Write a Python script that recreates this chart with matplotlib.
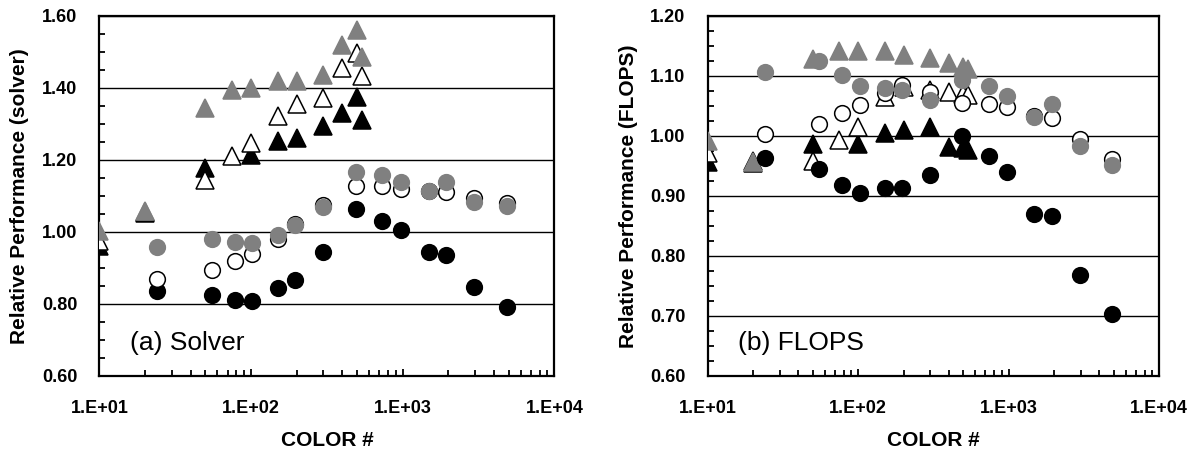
import numpy as np
import matplotlib as mpl
mpl.use('Agg')
import matplotlib.pyplot as plt
from matplotlib.ticker import MultipleLocator, LogLocator, FuncFormatter, NullFormatter

plt.rcParams['font.family'] = ['Liberation Sans', 'DejaVu Sans']

GRAY = '#808080'

# number of colors for each ordering
tri_x = [10, 20, 50, 75, 100, 150, 200, 300, 400, 500, 540]
circ_x = [24, 55, 78, 102, 150, 195, 298, 490, 735, 970, 1480, 1940, 2960, 4870]

# (a) solver time
solver_tri_black = [0.960, 1.052, 1.178, np.nan, 1.215, 1.252, 1.261, 1.293, 1.330, 1.376, 1.312]
solver_tri_white = [0.975, 1.054, 1.143, 1.210, 1.247, 1.323, 1.355, 1.372, 1.455, 1.497, 1.432]
solver_tri_gray = [1.003, 1.058, 1.344, 1.393, 1.400, 1.418, 1.418, 1.437, 1.520, 1.561, 1.487]
solver_circ_black = [0.835, 0.825, 0.811, 0.809, 0.843, 0.866, 0.943, 1.063, 1.030, 1.004, 0.943, 0.935, 0.848, 0.792]
solver_circ_white = [0.869, 0.894, 0.919, 0.938, 0.981, 1.023, 1.074, 1.127, 1.127, 1.118, 1.113, 1.110, 1.095, 1.081]
solver_circ_gray = [0.959, 0.981, 0.972, 0.968, 0.991, 1.019, 1.069, 1.167, 1.158, 1.139, 1.115, 1.139, 1.084, 1.072]

# (b) FLOPS rate
flops_tri_black = [0.956, 0.955, 0.986, np.nan, 0.987, 1.005, 1.009, 1.014, 0.981, 0.980, 0.977]
flops_tri_white = [0.972, 0.959, 0.959, 0.993, 1.015, 1.064, 1.082, 1.076, 1.073, 1.069, 1.068]
flops_tri_gray = [0.992, 0.956, 1.128, 1.142, 1.141, 1.141, 1.134, 1.130, 1.121, 1.115, 1.112]
flops_circ_black = [0.963, 0.945, 0.918, 0.905, 0.914, 0.913, 0.935, 1.000, 0.966, 0.940, 0.870, 0.867, 0.769, 0.704]
flops_circ_white = [1.003, 1.020, 1.038, 1.052, 1.072, 1.085, 1.073, 1.055, 1.053, 1.048, 1.033, 1.030, 0.995, 0.961]
flops_circ_gray = [1.106, 1.125, 1.101, 1.083, 1.079, 1.077, 1.060, 1.093, 1.083, 1.066, 1.031, 1.053, 0.984, 0.951]


def draw_panel(ax, tris, circs, ylim, ystep, ylabel, tag):
    styles = [('black', 'black'), ('white', 'black'), (GRAY, GRAY)]
    for vals, (fc, ec) in zip(tris, styles):
        ax.plot(tri_x, vals, ls='none', marker='^', ms=12.5, mfc=fc, mec=ec,
                mew=1.1, zorder=3)
    for vals, (fc, ec) in zip(circs, styles):
        ax.plot(circ_x, vals, ls='none', marker='o', ms=11.3, mfc=fc, mec=ec,
                mew=1.1, zorder=4)

    ax.set_xscale('log')
    ax.set_xlim(10, 10000)
    ax.set_ylim(*ylim)
    ax.yaxis.set_major_locator(MultipleLocator(ystep))
    ax.yaxis.set_minor_locator(MultipleLocator(ystep / 4))
    ax.yaxis.set_major_formatter(FuncFormatter(lambda v, p: '%.2f' % v))
    ax.xaxis.set_major_locator(LogLocator(base=10, numticks=10))
    ax.xaxis.set_minor_locator(LogLocator(base=10, subs=np.arange(2, 10), numticks=10))
    ax.xaxis.set_major_formatter(FuncFormatter(lambda v, p: '1.E+%02d' % round(np.log10(v))))
    ax.xaxis.set_minor_formatter(NullFormatter())

    ax.grid(axis='y', which='major', color='black', lw=1.0, zorder=1)
    for s in ax.spines.values():
        s.set_linewidth(1.6)

    ax.tick_params(axis='both', which='both', direction='in', width=1.3,
                   labelsize=13)
    ax.tick_params(axis='y', which='major', length=0, pad=16)
    ax.tick_params(axis='y', which='minor', length=4)
    ax.tick_params(axis='x', which='major', length=5, pad=17.5)
    ax.tick_params(axis='x', which='minor', length=4)
    for lab in ax.get_xticklabels() + ax.get_yticklabels():
        lab.set_fontweight('bold')

    ax.set_ylabel(ylabel, fontsize=15, fontweight='bold', labelpad=9)
    ax.set_xlabel('COLOR #', fontsize=15, fontweight='bold', labelpad=10)
    ax.text(0.068, 0.092, tag, transform=ax.transAxes, fontsize=19,
            va='center', ha='left')


fig = plt.figure(figsize=(12, 4.53), dpi=100)
ax1 = fig.add_axes([0.0828, 0.170, 0.3792, 0.795])
ax2 = fig.add_axes([0.5898, 0.170, 0.3762, 0.795])

draw_panel(ax1,
           [solver_tri_black, solver_tri_white, solver_tri_gray],
           [solver_circ_black, solver_circ_white, solver_circ_gray],
           (0.6, 1.6), 0.2, 'Relative Performance (solver)', '(a) Solver')
draw_panel(ax2,
           [flops_tri_black, flops_tri_white, flops_tri_gray],
           [flops_circ_black, flops_circ_white, flops_circ_gray],
           (0.6, 1.2), 0.1, 'Relative Performance (FLOPS)', '(b) FLOPS')

fig.savefig('out.png', dpi=100)
